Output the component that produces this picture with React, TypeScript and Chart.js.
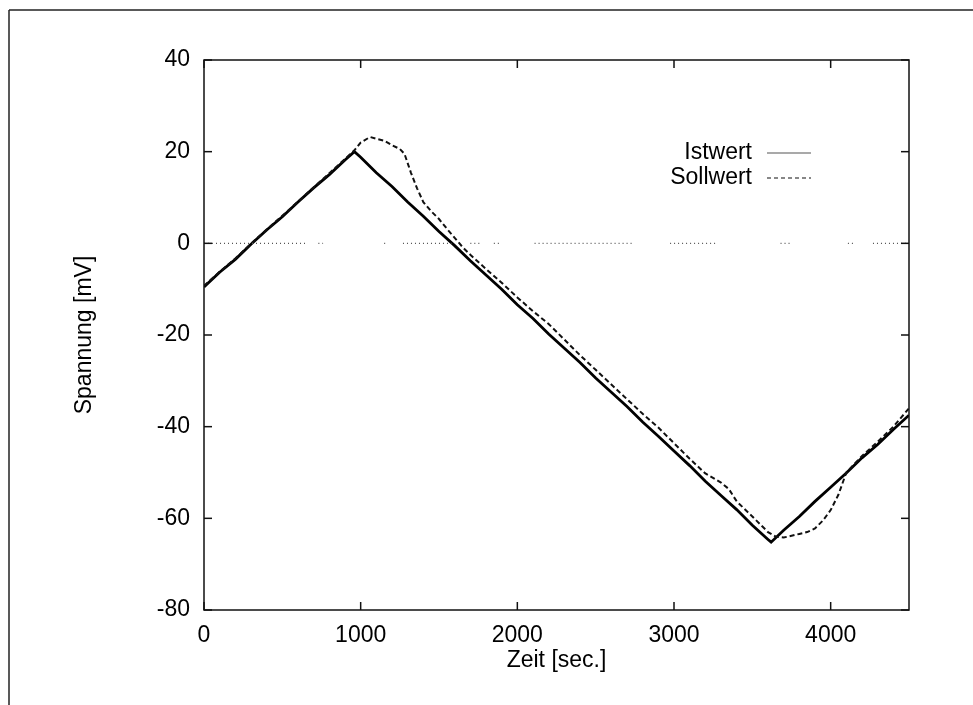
import { useEffect, useRef } from "react";
import { Chart, registerables } from "chart.js";

Chart.register(...registerables);

// ---------- data ----------
const seriesNames = ["Istwert", "Sollwert"];
const xTitle = "Zeit [sec.]";
const yTitle = "Spannung [mV]";
const xTickValues = [0, 1000, 2000, 3000, 4000];
const yTickValues = [40, 20, 0, -20, -40, -60, -80];

const istTime = [
  0, 100, 200, 300, 400, 500, 600, 700, 800, 900, 960, 1000, 1100, 1200, 1300, 1400, 1500,
  1600, 1700, 1800, 1900, 2000, 2100, 2200, 2300, 2400, 2500, 2600, 2700, 2800, 2900, 3000,
  3100, 3200, 3300, 3400, 3500, 3600, 3620, 3700, 3800, 3900, 4000, 4100, 4200, 4300, 4400, 4500,
];
const istValues = [
  -9.5, -6.3, -3.5, -0.2, 2.9, 5.8, 9.0, 12.1, 15.0, 18.2, 20.0, 18.8, 15.4, 12.4, 9.0, 5.9, 2.6,
  -0.5, -3.8, -6.9, -10.0, -13.4, -16.4, -19.8, -22.9, -26.0, -29.4, -32.5, -35.6, -39.0, -42.1, -45.3,
  -48.5, -51.9, -55.0, -58.1, -61.5, -64.6, -65.2, -62.6, -59.6, -56.3, -53.2, -50.1, -46.8, -43.9, -40.6, -37.5,
];

const sollTime = [
  0, 100, 200, 300, 400, 500, 600, 700, 800, 900, 960, 1000, 1060, 1100, 1150, 1200, 1250,
  1280, 1320, 1360, 1400, 1450, 1500, 1550, 1600, 1650, 1700, 1800, 1900, 2000, 2100, 2200,
  2300, 2400, 2500, 2600, 2700, 2800, 2900, 3000, 3100, 3200, 3300, 3350, 3400, 3500, 3600,
  3650, 3700, 3800, 3850, 3900, 3950, 4000, 4050, 4100, 4200, 4300, 4400, 4500,
];
const sollValues = [
  -9.3, -6.2, -3.3, -0.1, 3.0, 6.0, 9.1, 12.2, 15.3, 18.4, 20.3, 22.0, 23.2, 22.8, 22.4, 21.4, 20.6,
  19.5, 15.5, 12.0, 9.0, 7.0, 5.3, 3.2, 1.2, -0.8, -2.5, -5.6, -8.6, -11.8, -14.8, -17.6,
  -21.0, -24.4, -27.6, -30.8, -34.0, -37.2, -40.2, -43.6, -47.0, -50.2, -52.2, -53.6, -56.3, -59.6, -63.0,
  -64.0, -64.2, -63.4, -63.0, -62.2, -60.5, -58.2, -54.8, -50.0, -46.4, -43.3, -40.0, -36.0,
];

// dotted zero line pieces (start, end) in seconds
const zeroSegments: number[][] = [
  [0, 650], [730, 760], [1150, 1170], [1270, 1580], [1700, 1760], [1850, 1900],
  [2110, 2740], [2975, 3280], [3680, 3750], [4110, 4160], [4270, 4500],
];

const FONT = '"Liberation Sans", Arial, Helvetica, sans-serif';

export default function App() {
  const ref = useRef<HTMLCanvasElement | null>(null);

  useEffect(() => {
    if (!ref.current) return;

    const zeroData: any[] = [];
    zeroSegments.forEach(([a, b]) => {
      zeroData.push({ x: a, y: 0 }, { x: b, y: 0 }, { x: b + 1, y: null });
    });

    const decor = {
      id: "decor",
      afterDatasetsDraw(chart: any) {
        const { ctx, chartArea, scales } = chart;
        const { left, right, top, bottom } = chartArea;
        const xs = scales.x;
        const ys = scales.y;
        const line = (x1: number, y1: number, x2: number, y2: number) => {
          ctx.beginPath();
          ctx.moveTo(x1, y1);
          ctx.lineTo(x2, y2);
          ctx.stroke();
        };
        ctx.save();
        ctx.strokeStyle = "#111";
        ctx.lineWidth = 1.5;
        ctx.setLineDash([]);
        ctx.strokeRect(left, top, right - left, bottom - top);
        const tl = 8;
        xTickValues.forEach((v) => {
          const px = xs.getPixelForValue(v);
          line(px, bottom, px, bottom - tl);
          line(px, top, px, top + tl);
        });
        yTickValues.forEach((v) => {
          const py = ys.getPixelForValue(v);
          line(left, py, left + tl, py);
          line(right, py, right - tl, py);
        });
        // outer scan frame
        ctx.strokeStyle = "#222";
        line(9, 10, 973, 10);
        line(9, 10, 9, 705);

        // legend
        ctx.font = `23px ${FONT}`;
        ctx.fillStyle = "#000";
        ctx.textAlign = "right";
        ctx.textBaseline = "middle";
        const lx = 752;
        const rows = [153, 178];
        ctx.fillText(seriesNames[0], lx, rows[0]);
        ctx.fillText(seriesNames[1], lx, rows[1]);
        ctx.lineWidth = 1.2;
        ctx.strokeStyle = "#555";
        line(767, rows[0], 811, rows[0]);
        ctx.strokeStyle = "#111";
        ctx.setLineDash([4, 3]);
        line(767, rows[1], 811, rows[1]);
        ctx.restore();
      },
    };

    const chart = new Chart(ref.current, {
      type: "line",
      data: {
        datasets: [
          {
            label: "zero",
            data: zeroData,
            borderColor: "#555",
            borderWidth: 1.3,
            borderDash: [1, 3],
            pointRadius: 0,
            spanGaps: false,
            tension: 0,
          },
          {
            label: seriesNames[1],
            data: sollTime.map((t, i) => ({ x: t, y: sollValues[i] })),
            borderColor: "#111",
            borderWidth: 2,
            borderDash: [5, 3],
            pointRadius: 0,
            tension: 0,
          },
          {
            label: seriesNames[0],
            data: istTime.map((t, i) => ({ x: t, y: istValues[i] })),
            borderColor: "#000",
            borderWidth: 2.8,
            pointRadius: 0,
            tension: 0,
          },
        ],
      },
      options: {
        animation: false,
        responsive: false,
        maintainAspectRatio: false,
        layout: { padding: { top: 60, right: 64, left: 0, bottom: 0 } },
        plugins: {
          legend: { display: false },
          tooltip: { enabled: false },
          title: { display: false },
        },
        scales: {
          x: {
            type: "linear",
            min: 0,
            max: 4500,
            grid: { display: false, drawTicks: false },
            border: { display: false },
            afterBuildTicks: (s: any) => {
              s.ticks = xTickValues.map((v) => ({ value: v }));
            },
            afterFit: (s: any) => {
              s.height = 95;
            },
            ticks: {
              color: "#000",
              padding: 12,
              maxRotation: 0,
              font: { family: FONT, size: 23 },
              callback: (v: any) => String(v),
            },
            title: {
              display: true,
              text: xTitle,
              color: "#000",
              font: { family: FONT, size: 23 },
              padding: { top: 0, bottom: 31 },
            },
          },
          y: {
            type: "linear",
            min: -80,
            max: 40,
            grid: { display: false, drawTicks: false },
            border: { display: false },
            afterBuildTicks: (s: any) => {
              s.ticks = yTickValues.map((v) => ({ value: v }));
            },
            afterFit: (s: any) => {
              s.width = 204;
            },
            ticks: {
              color: "#000",
              padding: 14,
              font: { family: FONT, size: 23 },
              callback: (v: any) => String(v),
            },
            title: {
              display: true,
              text: yTitle,
              color: "#000",
              font: { family: FONT, size: 23 },
              padding: { top: 71, bottom: 0 },
            },
          },
        },
      },
      plugins: [decor],
    } as any);

    return () => chart.destroy();
  }, []);

  return (
    <div style={{ position: "fixed", left: 0, top: 0, width: 973, height: 705, background: "#fff" }}>
      <canvas ref={ref} width={973} height={705} style={{ width: 973, height: 705, display: "block" }} />
    </div>
  );
}
